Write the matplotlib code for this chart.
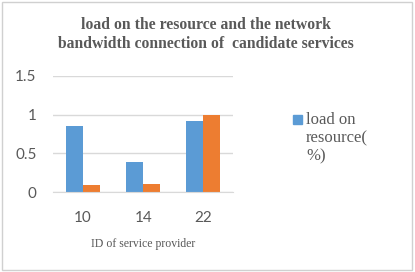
import matplotlib.pyplot as plt
import numpy as np
from matplotlib.patches import Rectangle

# Data
providers = ['10', '14', '22']
load_on_resource = [0.85, 0.39, 0.92]
bandwidth_connection = [0.09, 0.10, 1.00]
yticks = [0, 0.5, 1, 1.5]
ytick_labels = ['0', '0.5', '1', '1.5']
legend_label = 'load on\nresource(\n%)'

# Colors
blue = '#5B9BD5'
orange = '#ED7D31'
text_grey = '#595959'
grid_grey = '#D9D9D9'

fig = plt.figure(figsize=(4.15, 2.72), dpi=100)
fig.patch.set_facecolor('white')

# Light frame around the whole chart
fig.patches.append(Rectangle((0.005, 0.007), 0.988, 0.986, transform=fig.transFigure,
                             fill=False, edgecolor='#D0D0D0', lw=1))

ax = fig.add_axes([0.128, 0.294, 0.434, 0.427])

x = np.arange(len(providers))
width = 0.28
ax.bar(x - width / 2, load_on_resource, width, color=blue)
ax.bar(x + width / 2, bandwidth_connection, width, color=orange)

ax.set_ylim(0, 1.5)
ax.set_xlim(-0.5, 2.5)
ax.set_yticks(yticks)
ax.set_yticklabels(ytick_labels)
ax.set_xticks(x)
ax.set_xticklabels(providers)
ax.yaxis.grid(True, color=grid_grey, lw=1)
ax.set_axisbelow(True)

for side in ['top', 'right', 'left']:
    ax.spines[side].set_visible(False)
ax.spines['bottom'].set_color(grid_grey)
ax.tick_params(axis='both', length=0, labelsize=11, colors=text_grey)
ax.tick_params(axis='y', pad=12)
ax.tick_params(axis='x', pad=14)
for lbl in ax.get_xticklabels() + ax.get_yticklabels():
    lbl.set_fontfamily('Lato')

ax.set_xlabel('ID of service provider', fontfamily='Liberation Serif', fontsize=8.5,
              color=text_grey, labelpad=9)

fig.text(0.497, 0.873, 'load on the resource and the network\nbandwidth connection of  candidate services',
         ha='center', va='center', fontfamily='Liberation Serif', fontweight='bold',
         fontsize=11.3, color=text_grey, linespacing=1.2)

# Legend: only the first entry fits in the reference, marker next to the first line
fig.patches.append(Rectangle((293 / 415, 1 - 124 / 272), 8.5 / 415, 8.5 / 272,
                             transform=fig.transFigure, color=blue))
fig.text(306 / 415, 1 - 112 / 272, legend_label, ha='left', va='top',
         fontfamily='Liberation Serif', fontsize=12, color=text_grey, linespacing=1.2)

fig.savefig('out.png', dpi=100)
